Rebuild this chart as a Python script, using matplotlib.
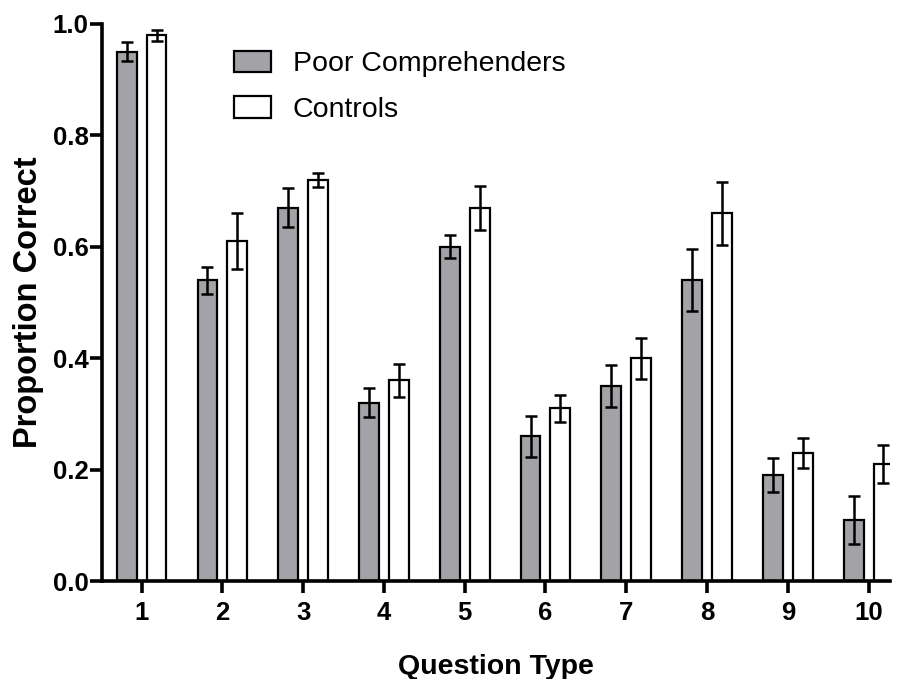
import matplotlib
matplotlib.use("Agg")
import matplotlib.pyplot as plt
import numpy as np

plt.rcParams['font.family'] = ['Liberation Sans', 'DejaVu Sans']

categories = [1, 2, 3, 4, 5, 6, 7, 8, 9, 10]
poor = [0.95, 0.54, 0.67, 0.32, 0.60, 0.26, 0.35, 0.54, 0.19, 0.11]
poor_err = [0.017, 0.024, 0.035, 0.026, 0.021, 0.037, 0.037, 0.056, 0.030, 0.043]
controls = [0.98, 0.61, 0.72, 0.36, 0.67, 0.31, 0.40, 0.66, 0.23, 0.21]
controls_err = [0.010, 0.050, 0.013, 0.030, 0.040, 0.024, 0.037, 0.056, 0.027, 0.034]

fig = plt.figure(figsize=(8.97, 6.79), dpi=100)
ax = fig.add_axes([0.1137, 0.1443, 0.878, 0.8204])

x = np.array(categories, dtype=float)
w = 0.245
off = 0.185
ekw = dict(elinewidth=1.8, capthick=1.8, ecolor='black')
ax.bar(x - off, poor, w, color='#a3a2a7', edgecolor='black', linewidth=1.6,
       yerr=poor_err, capsize=4.3, error_kw=ekw, label='Poor Comprehenders', zorder=2)
ax.bar(x + off, controls, w, color='white', edgecolor='black', linewidth=1.6,
       yerr=controls_err, capsize=4.3, error_kw=ekw, label='Controls', zorder=2)

ax.set_xlim(0.51, 10.26)
ax.set_ylim(0, 1.0)
ax.set_yticks([0.0, 0.2, 0.4, 0.6, 0.8, 1.0])
ax.set_yticklabels(['0.0', '0.2', '0.4', '0.6', '0.8', '1.0'])
ax.set_xticks(categories)
ax.set_xticklabels([str(c) for c in categories])

for s in ['top', 'right']:
    ax.spines[s].set_visible(False)
for s in ['left', 'bottom']:
    ax.spines[s].set_linewidth(2.6)
    ax.spines[s].set_zorder(3)

ax.tick_params(axis='y', length=8.6, width=2.6, labelsize=18.5, pad=1)
ax.tick_params(axis='x', length=8.6, width=2.6, labelsize=18.5, pad=6)
for lab in ax.get_xticklabels() + ax.get_yticklabels():
    lab.set_fontweight('bold')

ax.set_ylabel('Proportion Correct', fontsize=23.5, fontweight='bold', labelpad=6)
ax.set_xlabel('Question Type', fontsize=20.5, fontweight='bold', labelpad=21)

leg = ax.legend(loc='upper left', bbox_to_anchor=(0.1675, 0.952), frameon=False,
                fontsize=20.5, handlelength=1.3, handleheight=0.77,
                handletextpad=0.77, labelspacing=0.67, borderpad=0,
                borderaxespad=0)

fig.savefig('out.png', dpi=100)
